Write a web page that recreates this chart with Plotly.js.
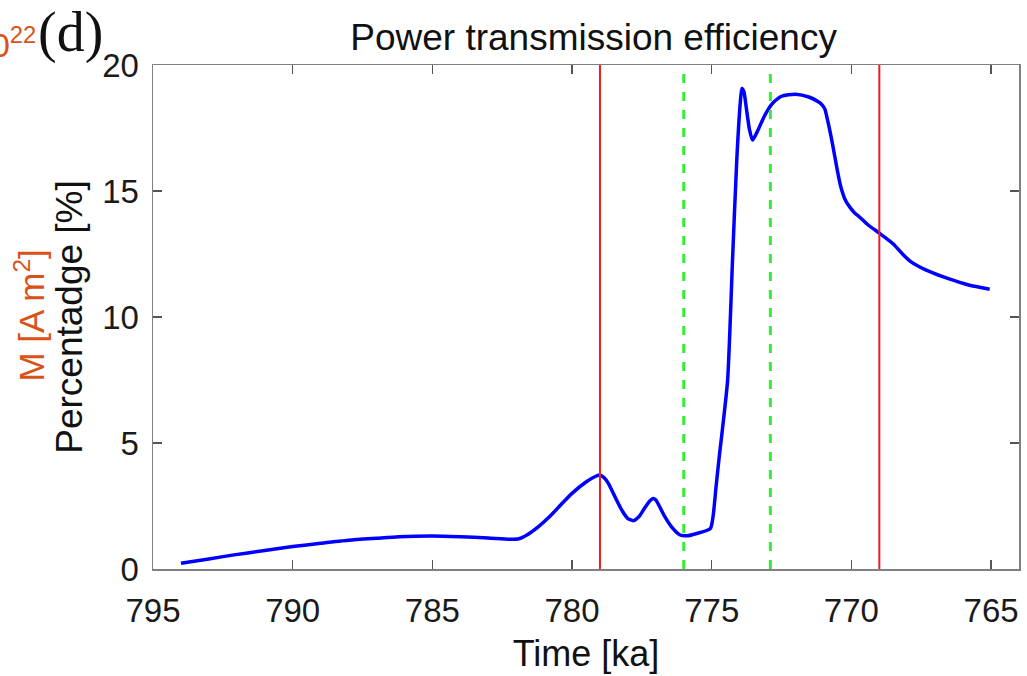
<!DOCTYPE html>
<html>
<head>
<meta charset="utf-8">
<script src="https://cdn.plot.ly/plotly-3.0.1.min.js"></script>
<style>html,body{margin:0;padding:0;background:#fff}#chart{width:1027px;height:676px}</style>
</head>
<body>
<div id="chart"></div>
<script>
// Time [ka] and power transmission efficiency [%]
const timeKa = [794.0, 793.0, 792.1, 791.0, 790.0, 789.0, 788.0, 787.0, 786.2, 785.0, 784.0, 783.0, 782.2, 781.9, 781.6, 781.2, 780.8, 780.4, 780.0, 779.5, 779.15, 779.0, 778.85, 778.7, 778.5, 778.2, 778.0, 777.8, 777.6, 777.4, 777.2, 777.1, 777.0, 776.9, 776.7, 776.4, 776.15, 775.9, 775.5, 775.05, 774.95, 774.85, 774.73, 774.6, 774.43, 774.25, 774.1, 773.97, 773.92, 773.85, 773.75, 773.65, 773.54, 773.35, 773.18, 773.0, 772.82, 772.5, 772.0, 771.5, 771.2, 771.05, 770.95, 770.85, 770.68, 770.5, 770.38, 770.2, 770.05, 769.9, 769.72, 769.4, 769.0, 768.5, 768.17, 767.9, 767.34, 766.5, 765.8, 765.05];
const efficiency = [0.23, 0.40, 0.56, 0.73, 0.89, 1.02, 1.14, 1.22, 1.28, 1.31, 1.28, 1.23, 1.18, 1.20, 1.36, 1.68, 2.08, 2.55, 3.0, 3.45, 3.68, 3.73, 3.62, 3.40, 2.95, 2.30, 2.00, 1.92, 2.08, 2.42, 2.72, 2.80, 2.74, 2.55, 2.12, 1.62, 1.36, 1.32, 1.42, 1.60, 2.1, 3.2, 4.46, 5.7, 7.5, 12.4, 16.3, 18.6, 19.07, 18.95, 18.2, 17.45, 17.02, 17.4, 17.82, 18.2, 18.48, 18.76, 18.84, 18.72, 18.55, 18.42, 18.25, 17.8, 16.89, 15.8, 15.17, 14.6, 14.35, 14.15, 13.98, 13.65, 13.33, 12.9, 12.5, 12.22, 11.87, 11.51, 11.27, 11.1];
const redLines = [779.0, 769.0];
const greenLines = [776.0, 772.9];
const xTicks = [795, 790, 785, 780, 775, 770, 765];
const yTicks = [0, 5, 10, 15, 20];

const shapes = [];
redLines.forEach(v => shapes.push({type:'line', xref:'x', yref:'paper', x0:v, x1:v, y0:0, y1:1, line:{color:'#ee1c1c', width:2}}));
greenLines.forEach(v => shapes.push({type:'line', xref:'x', yref:'paper', x0:v, x1:v, y0:0, y1:1, line:{color:'#33ee33', width:3, dash:'dash'}}));

const trace = {x: timeKa, y: efficiency, type:'scatter', mode:'lines', line:{color:'#0000ff', width:3.5, shape:'spline', smoothing:0.6}, hoverinfo:'skip'};

const axisCommon = {
  showgrid:false, zeroline:false, showline:true, linecolor:'#808080', linewidth:1.5,
  mirror:'ticks', ticks:'inside', ticklen:9, tickwidth:1.2, tickcolor:'#555',
  tickfont:{family:'Liberation Sans, Arial, sans-serif', size:33, color:'#1a1a1a'}
};

const layout = {
  width:1027, height:676,
  margin:{l:153, r:8, t:65, b:107},
  paper_bgcolor:'#fff', plot_bgcolor:'#fff',
  showlegend:false,
  title:{text:'Power transmission efficiency', font:{family:'Liberation Sans, Arial, sans-serif', size:37, color:'#111'}, xref:'container', x:0.578, xanchor:'center', yref:'container', y:0.945, yanchor:'middle'},
  xaxis: Object.assign({}, axisCommon, {range:[795, 764], tickvals:xTicks, ticktext:xTicks.map(String), ticklabelstandoff:12,
    title:{text:'Time [ka]', font:{family:'Liberation Sans, Arial, sans-serif', size:36, color:'#111'}, standoff:12}}),
  yaxis: Object.assign({}, axisCommon, {range:[0, 20], tickvals:yTicks, ticktext:yTicks.map(String), ticklabelstandoff:6,
    title:{text:'Percentadge [%]', font:{family:'Liberation Sans, Arial, sans-serif', size:37, color:'#111'}, standoff:8}}),
  shapes: shapes,
  annotations:[
    {xref:'paper', yref:'paper', x:-0.133, y:1.045, xanchor:'right', yanchor:'middle', showarrow:false,
     text:'10<sup>22</sup>', font:{family:'Liberation Sans, Arial, sans-serif', size:34, color:'#D95319'}},
    {xref:'paper', yref:'paper', x:-0.135, y:1.065, xanchor:'left', yanchor:'middle', showarrow:false,
     text:'(d)', font:{family:'Liberation Serif, Times New Roman, serif', size:56, color:'#111'}},
    {xref:'paper', yref:'paper', x:-0.142, y:0.503, xanchor:'center', yanchor:'middle', showarrow:false, textangle:-90,
     text:'M [A m<sup>2</sup>]', font:{family:'Liberation Sans, Arial, sans-serif', size:35, color:'#D95319'}}
  ]
};

Plotly.newPlot('chart', [trace], layout, {staticPlot:true, displayModeBar:false});
</script>
</body>
</html>
